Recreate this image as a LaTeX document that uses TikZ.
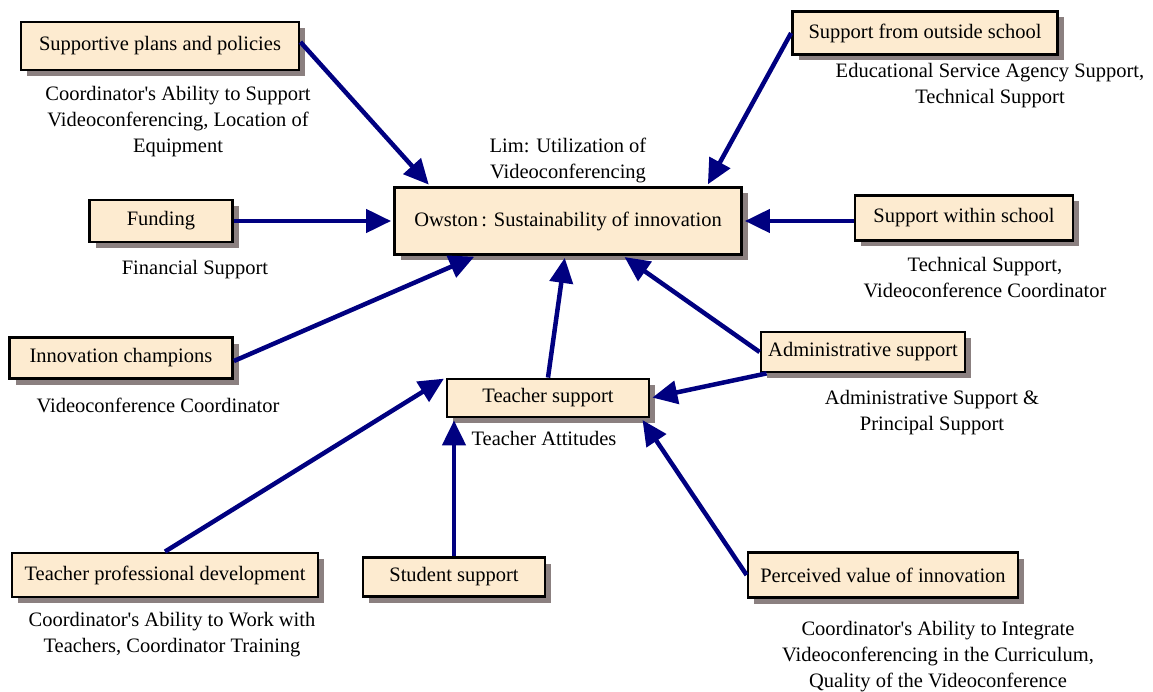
\documentclass[tikz,border=0pt]{standalone}
\usepackage{fontspec}
\setmainfont{Liberation Serif}
\usetikzlibrary{arrows.meta,shadows}

\definecolor{boxfill}{HTML}{FDEBD0}
\definecolor{shade}{HTML}{8B8080}
\definecolor{arrowblue}{HTML}{000080}

\tikzset{
  box/.style={draw=black, line width=2.8pt, fill=boxfill, inner sep=0pt,
    font=\fontsize{20.5}{26}\selectfont,
    drop shadow={shadow xshift=6pt, shadow yshift=-6pt, fill=shade, opacity=1}},
  note/.style={align=center, inner sep=0pt, font=\fontsize{20.5}{26}\selectfont},
  feed/.style={draw=arrowblue, line width=4.5pt, shorten >=2pt,
    -{Triangle[length=25pt,width=23pt]}}
}

\begin{document}
\begin{tikzpicture}[x=1pt,y=-1pt]
\useasboundingbox (0,0) rectangle (1153,692);

% boxes
\node[box, minimum width=347pt, minimum height=67pt] (owston) at (568,221) {Owston\,: Sustainability of innovation};
\node[box, minimum width=278pt, minimum height=48pt] (plans) at (160,46) {Supportive plans and policies};
\node[box, minimum width=265pt, minimum height=43pt] (outside) at (925,33) {Support from outside school};
\node[box, minimum width=143pt, minimum height=42pt] (funding) at (161,221) {Funding};
\node[box, minimum width=218pt, minimum height=45pt] (within) at (964,218) {Support within school};
\node[box, minimum width=223pt, minimum height=41pt] (champions) at (121,358) {Innovation champions};
\node[box, minimum width=204pt, minimum height=40pt] (admin) at (863,352) {Administrative support};
\node[box, minimum width=202pt, minimum height=38pt] (teacher) at (548,398) {Teacher support};
\node[box, minimum width=306pt, minimum height=44pt] (profdev) at (165,575) {Teacher professional development};
\node[box, minimum width=182pt, minimum height=39pt] (student) at (454,577) {Student support};
\node[box, minimum width=270pt, minimum height=45pt] (perceived) at (883,575) {Perceived value of innovation};

% descriptions
\node[note] (plansnote) at (178,122) {Coordinator\textquotesingle s Ability to Support\\Videoconferencing, Location of\\Equipment};
\node[note] (outsidenote) at (990,86) {Educational Service Agency Support,\\Technical Support};
\node[note] (limnote) at (568,160) {Lim: Utilization of\\Videoconferencing};
\node[note] (fundingnote) at (195,270) {Financial Support};
\node[note] (withinnote) at (985,278) {Technical Support,\\Videoconference Coordinator};
\node[note] (championsnote) at (158,405) {Videoconference Coordinator};
\node[note] (adminnote) at (932,413) {Administrative Support \&\\Principal Support};
\node[note] (teachernote) at (544,438) {Teacher Attitudes};
\node[note] (profdevnote) at (172,635) {Coordinator\textquotesingle s Ability to Work with\\Teachers, Coordinator Training};
\node[note] (perceivednote) at (938,657) {Coordinator\textquotesingle s Ability to Integrate\\Videoconferencing in the Curriculum,\\Quality of the Videoconference};

% arrows
\draw[feed] ([yshift=4pt]plans.east) -- ([xshift=37pt]owston.north west);
\draw[feed] (outside.west) -- ([xshift=-36pt]owston.north east);
\draw[feed] (funding.east) -- (owston.west);
\draw[feed] (within.west |- owston.east) -- (owston.east);
\draw[feed] ([yshift=-3pt]champions.east) -- ([xshift=83pt]owston.south west);
\draw[feed] (admin.west) -- ([xshift=-120pt]owston.south east);
\draw[feed] (teacher.north) -- ([xshift=-3pt]owston.south);
\draw[feed] ([xshift=7pt]admin.south west) -- (teacher.east);
\draw[feed] (profdev.north) -- (teacher.north west);
\draw[feed] (student.north) -- (student.north |- teacher.south);
\draw[feed] (perceived.west) -- ([xshift=-9pt]teacher.south east);
\end{tikzpicture}
\end{document}
